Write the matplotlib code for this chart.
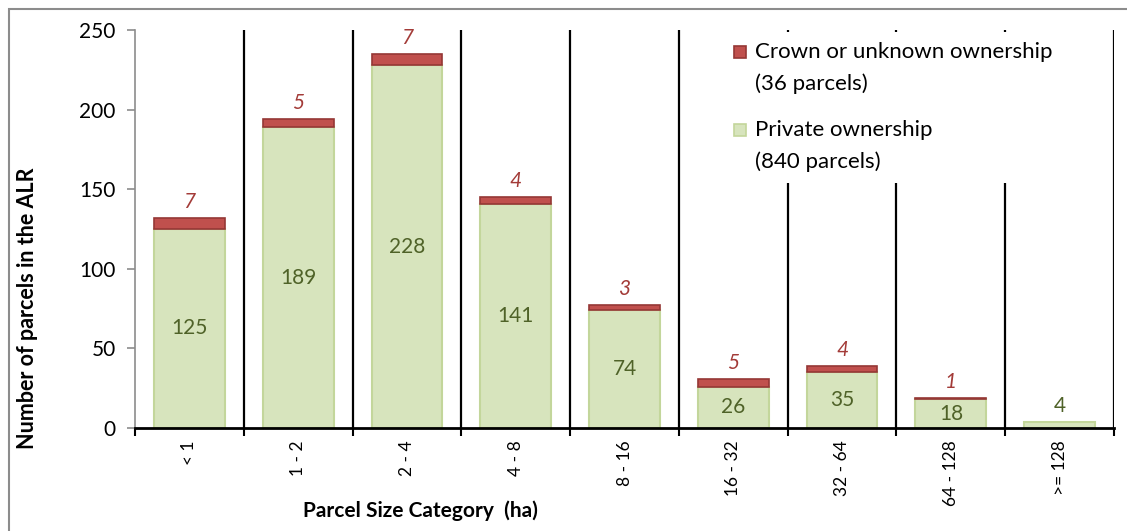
import numpy as np
import matplotlib.pyplot as plt
from matplotlib.patches import Rectangle

plt.rcParams['font.family'] = ['Lato', 'DejaVu Sans']

categories = ['< 1', '1 - 2', '2 - 4', '4 - 8', '8 - 16', '16 - 32', '32 - 64', '64 - 128', '>= 128']
private = [125, 189, 228, 141, 74, 26, 35, 18, 4]
crown = [7, 5, 7, 4, 3, 5, 4, 1, 0]
legend_labels = ['Crown or unknown ownership\n(36 parcels)', 'Private ownership\n(840 parcels)']

green_fill = '#d7e4bd'
green_edge = '#c3d69b'
red_fill = '#c0504d'
red_edge = '#953735'

W, H = 1127, 531
fig = plt.figure(figsize=(W / 100, H / 100), dpi=100)


def px(x0, y0):
    # pixel position (from top-left) to figure fraction
    return x0 / W, 1 - y0 / H


# outer chart border
fig.patches.append(Rectangle((9 / W, -0.1), 1.2, 1 - 9 / H + 0.1, transform=fig.transFigure,
                             fill=False, edgecolor='#8c8c8c', linewidth=1.5))

ax = fig.add_axes([135 / W, 1 - 428 / H, (1114 - 135) / W, (428 - 30) / H])
x = np.arange(len(categories))

# category separators
ax.vlines(np.arange(len(categories)) + 0.5, 0, 250, color='black', linewidth=1.6, zorder=1)

ax.bar(x, private, width=0.65, color=green_fill, edgecolor=green_edge, linewidth=1.5, zorder=2)
has_crown = np.array(crown) > 0
ax.bar(x[has_crown], np.array(crown)[has_crown], width=0.65, bottom=np.array(private)[has_crown],
       color=red_fill, edgecolor=red_edge, linewidth=1.2, zorder=2)

for i in range(len(categories)):
    if private[i] >= 10:
        ax.text(x[i], private[i] / 2, str(private[i]), ha='center', va='center',
                fontsize=15, color='#4f6228', zorder=3)
    else:
        ax.text(x[i], private[i] + 10, str(private[i]), ha='center', va='center',
                fontsize=15, color='#4f6228', zorder=3)
    if crown[i] > 0:
        ax.text(x[i], private[i] + crown[i] + 10, str(crown[i]), ha='center', va='center',
                fontsize=15, color='#a33b38', style='italic', zorder=3)

ax.set_xlim(-0.5, len(categories) - 0.5)
ax.set_ylim(0, 250)
ax.set_yticks(np.arange(0, 251, 50))

# boundary ticks on the x axis, labels at the bar centres
ax.set_xticks(np.arange(len(categories) + 1) - 0.5)
ax.set_xticklabels([])
ax.set_xticks(x, minor=True)
ax.set_xticklabels(categories, minor=True, rotation=90, fontsize=12.5)
ax.tick_params(axis='x', which='major', direction='out', length=6, width=1.5, color='black')
ax.tick_params(axis='x', which='minor', length=0, pad=9)
ax.tick_params(axis='y', direction='out', length=6, width=1.2, color='#8c8c8c', labelsize=15, pad=8)

for s in ['top', 'right']:
    ax.spines[s].set_visible(False)
ax.spines['left'].set_color('#8c8c8c')
ax.spines['left'].set_linewidth(1.2)
ax.spines['bottom'].set_color('black')
ax.spines['bottom'].set_linewidth(2)

fig.text(*px(28, 308), 'Number of parcels in the ALR', rotation=90, ha='center',
         va='center', fontsize=15.5, fontweight='bold')
fig.text(*px(420, 511), 'Parcel Size Category  (ha)', ha='center', va='center',
         fontsize=15, fontweight='bold')

# legend: white box over the separators, a swatch beside the first line of each entry
fig.patches.append(Rectangle(px(722, 183), 378 / W, 151 / H, transform=fig.transFigure,
                             facecolor='white', edgecolor='none', zorder=5))
swatches = [(red_fill, red_edge, 52), (green_fill, green_edge, 130)]
for (fc, ec, y0), label in zip(swatches, legend_labels):
    fig.patches.append(Rectangle(px(734, y0 + 6), 12 / W, 12 / H, transform=fig.transFigure,
                                 facecolor=fc, edgecolor=ec, linewidth=1.2, zorder=6))
    first, second = label.split('\n')
    fig.text(*px(755, y0), first, ha='left', va='center', fontsize=16, zorder=6)
    fig.text(*px(755, y0 + 32), second, ha='left', va='center', fontsize=16, zorder=6)

fig.savefig('out.png', dpi=100)
